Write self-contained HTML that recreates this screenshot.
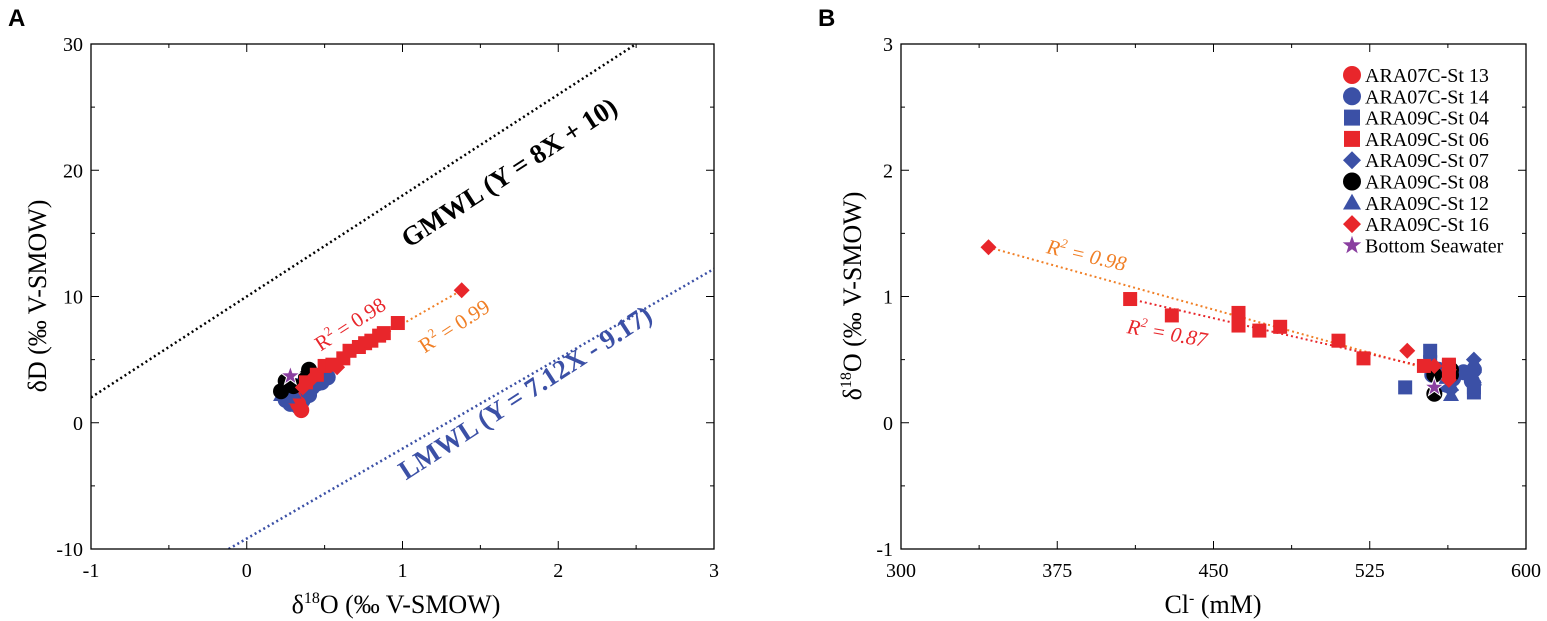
<!DOCTYPE html>
<html><head><meta charset="utf-8"><style>
html,body{margin:0;padding:0;background:#fff;width:1547px;height:621px;overflow:hidden}
svg{display:block;font-family:"Liberation Serif",serif}
</style></head><body>
<svg id="fig" width="1547" height="621" viewBox="0 0 1547 621"></svg>
<script>
// ---- Panel A data (δ18O, δD) ----
const aSt13X=[0.35,0.33,0.3];
const aSt13Y=[1.0,1.5,2.0];
const aSt14X=[0.25,0.28,0.3,0.33,0.36,0.38,0.4,0.42,0.45,0.48,0.52,0.27,0.32,0.35];
const aSt14Y=[1.8,1.5,2.2,1.3,1.8,2.5,2.2,2.8,3.1,3.2,3.6,2.6,2.9,1.6];
const aSt06X=[0.38,0.45,0.5,0.55,0.62,0.66,0.72,0.76,0.8,0.85,0.88,0.97];
const aSt06Y=[3.2,3.8,4.5,4.6,5.1,5.7,6.0,6.3,6.5,6.9,7.1,7.9];
const aSt16X=[1.38,0.58,0.42,0.36];
const aSt16Y=[10.5,4.4,3.5,2.8];
const aSt08X=[0.22,0.25,0.4,0.38,0.3];
const aSt08Y=[2.5,3.3,4.2,3.6,2.9];
const aSt12X=[0.22,0.26,0.3];
const aSt12Y=[2.2,2.0,2.4];
const aStarX=[0.28];
const aStarY=[3.7];
// ---- Panel B data (Cl-, δ18O) ----
const bSt06X=[410,430,462,462,472,482,510,522,551,563,563];
const bSt06Y=[0.98,0.85,0.87,0.77,0.73,0.76,0.65,0.51,0.45,0.46,0.40];
const bSt16X=[342,543,556,563,563];
const bSt16Y=[1.39,0.57,0.45,0.42,0.34];
const bSt04X=[542,554,554,563,575,575,563];
const bSt04Y=[0.28,0.57,0.48,0.45,0.28,0.24,0.3];
const bSt14X=[555,558,562,565,570,574,575];
const bSt14Y=[0.38,0.42,0.3,0.35,0.4,0.33,0.42];
const bSt12X=[564,564,575,575];
const bSt12Y=[0.22,0.3,0.48,0.36];
const bSt07X=[575,575,575,564];
const bSt07Y=[0.5,0.4,0.3,0.26];
const bSt08X=[556,556,564,564];
const bSt08Y=[0.38,0.23,0.42,0.38];
const bStarX=[556];
const bStarY=[0.28];
const legendLabels=["ARA07C-St 13","ARA07C-St 14","ARA09C-St 04","ARA09C-St 06","ARA09C-St 07","ARA09C-St 08","ARA09C-St 12","ARA09C-St 16","Bottom Seawater"];
const aXTicks=[-1,0,1,2,3];
const aYTicks=[-10,0,10,20,30];
const bXTicks=[300,375,450,525,600];
const bYTicks=[-1,0,1,2,3];

const NS="http://www.w3.org/2000/svg";
const svg=document.getElementById('fig');
function mk(tag,attrs,parent){const e=document.createElementNS(NS,tag);for(const k in attrs)e.setAttribute(k,attrs[k]);(parent||svg).appendChild(e);return e;}
const RED="#e8262b",BLUE="#3b50a6",BLACK="#000",PURPLE="#8a3fa0",ORANGE="#f07f26";

function scale(d0,d1,r0,r1){return v=>r0+(v-d0)*(r1-r0)/(d1-d0);}
const axA={x:scale(-1,3,91,714),y:scale(-10,30,549,44)};
const axB={x:scale(300,600,901,1526),y:scale(-1,3,549,44)};

function marker(type,cx,cy,color,name,g,sz){
  let e,s=sz||8;
  if(type==='circle')e=mk('circle',{cx:cx,cy:cy,r:s,fill:color},g);
  else if(type==='square')e=mk('rect',{x:cx-s+1,y:cy-s+1,width:2*s-2,height:2*s-2,fill:color},g);
  else if(type==='diamond')e=mk('polygon',{points:`${cx},${cy-s} ${cx+s},${cy} ${cx},${cy+s} ${cx-s},${cy}`,fill:color},g);
  else if(type==='triangle')e=mk('polygon',{points:`${cx},${cy-s} ${cx+s},${cy+s*0.75} ${cx-s},${cy+s*0.75}`,fill:color},g);
  else {let p=[];for(let i=0;i<10;i++){const r=i%2?s*0.5:s*1.25,a=-Math.PI/2+i*Math.PI/5;p.push((cx+r*Math.cos(a)).toFixed(1)+','+(cy+r*Math.sin(a)).toFixed(1));}
    e=mk('polygon',{points:p.join(' '),fill:color,stroke:'#fff','stroke-width':1},g);}
  
  
  return e;
}
function series(ax,xs,ys,type,color,name){
  const g=mk('g',{});
  
  
  xs.forEach((x,i)=>marker(type,ax.x(x),ax.y(ys[i]),color,name+'-point',g));
}
function frame(ax,xt,yt,x0,x1,y0,y1,pfx){
  const g=mk('g',{});
  
  
  mk('rect',{x:x0,y:y0,width:x1-x0,height:y1-y0,fill:'none',stroke:'#000','stroke-width':1.3},g);
  xt.forEach(v=>{const px=ax.x(v);
    mk('line',{x1:px,x2:px,y1:y1,y2:y1-8,stroke:'#000'},g);mk('line',{x1:px,x2:px,y1:y0,y2:y0+8,stroke:'#000'},g);
    const t=mk('text',{x:px,y:y1+28,'text-anchor':'middle','font-size':20},g);t.textContent=v;
    
    });
  for(let i=0;i<xt.length-1;i++){const px=(ax.x(xt[i])+ax.x(xt[i+1]))/2;
    mk('line',{x1:px,x2:px,y1:y1,y2:y1-4,stroke:'#000'},g);mk('line',{x1:px,x2:px,y1:y0,y2:y0+4,stroke:'#000'},g);}
  yt.forEach(v=>{const py=ax.y(v);
    mk('line',{x1:x0,x2:x0+8,y1:py,y2:py,stroke:'#000'},g);mk('line',{x1:x1,x2:x1-8,y1:py,y2:py,stroke:'#000'},g);
    const t=mk('text',{x:x0-8,y:py+7,'text-anchor':'end','font-size':20},g);t.textContent=v;
    
    });
  for(let i=0;i<yt.length-1;i++){const py=(ax.y(yt[i])+ax.y(yt[i+1]))/2;
    mk('line',{x1:x0,x2:x0+4,y1:py,y2:py,stroke:'#000'},g);mk('line',{x1:x1,x2:x1-4,y1:py,y2:py,stroke:'#000'},g);}
}
function label(x,y,txt,opts,name){const t=mk('text',Object.assign({x:x,y:y},opts));t.innerHTML=txt;
  
  return t;}

// ---------- Panel A ----------
const clipA=mk('clipPath',{id:'ca'});mk('rect',{x:91,y:44,width:623,height:505},clipA);
const gl=mk('g',{'clip-path':'url(#ca)'});
const gm=mk('line',{x1:axA.x(-1),y1:axA.y(2),x2:axA.x(2.5),y2:axA.y(30),stroke:'#000','stroke-width':2.5,'stroke-dasharray':'2 3'},gl);


const lm=mk('line',{x1:axA.x(-0.116),y1:axA.y(-10),x2:axA.x(3),y2:axA.y(12.19),stroke:BLUE,'stroke-width':2.5,'stroke-dasharray':'2 3'},gl);


const fa1=mk('line',{x1:axA.x(0.3),y1:axA.y(2.9),x2:axA.x(1.38),y2:axA.y(10.5),stroke:ORANGE,'stroke-width':2,'stroke-dasharray':'2 3'},gl);


series(axA,aSt14X,aSt14Y,'circle',BLUE,'st14');
series(axA,aSt13X,aSt13Y,'circle',RED,'st13');
series(axA,aSt12X,aSt12Y,'triangle',BLUE,'st12');
series(axA,aSt08X,aSt08Y,'circle',BLACK,'st08');
series(axA,aSt06X,aSt06Y,'square',RED,'st06');
series(axA,aSt16X,aSt16Y,'diamond',RED,'st16');
series(axA,aStarX,aStarY,'star',PURPLE,'bottom-seawater');
frame(axA,aXTicks,aYTicks,91,714,44,549,'panel-a');
label(514,180,'GMWL (Y = 8X + 10)',{'text-anchor':'middle','font-size':27,'font-weight':'bold',transform:'rotate(-33 514 180)'},'gmwl-label');
label(530,400,'LMWL (Y = 7.12X - 9.17)',{'text-anchor':'middle','font-size':27,'font-weight':'bold',fill:BLUE,transform:'rotate(-33 530 400)'},'lmwl-label');
label(354,330,'R<tspan font-size="13" dy="-9">2</tspan><tspan dy="9"> = 0.98</tspan>',{'text-anchor':'middle','font-size':21,fill:RED,transform:'rotate(-33 354 330)'},'r2-label-a-red');
label(458,332,'R<tspan font-size="13" dy="-9">2</tspan><tspan dy="9"> = 0.99</tspan>',{'text-anchor':'middle','font-size':21,fill:ORANGE,transform:'rotate(-33 458 332)'},'r2-label-a-orange');
label(396,613,'δ<tspan font-size="16" dy="-10">18</tspan><tspan dy="10">O (‰ V-SMOW)</tspan>',{'text-anchor':'middle','font-size':26},'x-axis-title-a');
label(46,296,'δD (‰ V-SMOW)',{'text-anchor':'middle','font-size':26,transform:'rotate(-90 46 296)'},'y-axis-title-a');
label(8,26,'A',{'font-size':24,'font-weight':'bold','font-family':'Liberation Sans, sans-serif'},'panel-label-a');

// ---------- Panel B ----------
const fb1=mk('line',{x1:axB.x(342),y1:axB.y(1.39),x2:axB.x(563),y2:axB.y(0.38),stroke:ORANGE,'stroke-width':2,'stroke-dasharray':'2 3'});


const fb2=mk('line',{x1:axB.x(410),y1:axB.y(0.98),x2:axB.x(563),y2:axB.y(0.40),stroke:RED,'stroke-width':2,'stroke-dasharray':'2 3'});


series(axB,bSt04X,bSt04Y,'square',BLUE,'b-st04');
series(axB,bSt14X,bSt14Y,'circle',BLUE,'b-st14');
series(axB,bSt12X,bSt12Y,'triangle',BLUE,'b-st12');
series(axB,bSt07X,bSt07Y,'diamond',BLUE,'b-st07');
series(axB,bSt08X,bSt08Y,'circle',BLACK,'b-st08');
series(axB,bSt06X,bSt06Y,'square',RED,'b-st06');
series(axB,bSt16X,bSt16Y,'diamond',RED,'b-st16');
series(axB,bStarX,bStarY,'star',PURPLE,'b-bottom-seawater');
frame(axB,bXTicks,bYTicks,901,1526,44,549,'panel-b');
label(1085,262,'R<tspan font-size="13" dy="-9">2</tspan><tspan dy="9"> = 0.98</tspan>',{'text-anchor':'middle','font-size':21,'font-style':'italic',fill:ORANGE,transform:'rotate(13 1085 262)'},'r2-label-b-orange');
label(1166,340,'R<tspan font-size="13" dy="-9">2</tspan><tspan dy="9"> = 0.87</tspan>',{'text-anchor':'middle','font-size':21,'font-style':'italic',fill:RED,transform:'rotate(10 1166 340)'},'r2-label-b-red');
label(1213,613,'Cl<tspan font-size="16" dy="-10">-</tspan><tspan dy="10"> (mM)</tspan>',{'text-anchor':'middle','font-size':26},'x-axis-title-b');
label(861,296,'δ<tspan font-size="16" dy="-10">18</tspan><tspan dy="10">O (‰ V-SMOW)</tspan>',{'text-anchor':'middle','font-size':26,transform:'rotate(-90 861 296)'},'y-axis-title-b');
label(818,26,'B',{'font-size':24,'font-weight':'bold','font-family':'Liberation Sans, sans-serif'},'panel-label-b');

// legend
const legTypes=['circle','circle','square','square','diamond','circle','triangle','diamond','star'];
const legColors=[RED,BLUE,BLUE,RED,BLUE,BLACK,BLUE,RED,PURPLE];
const lg=mk('g',{});


legendLabels.forEach((l,i)=>{const y=75+i*21.3;
  marker(legTypes[i],1352,y,legColors[i],'legend-marker',lg,9);
  const t=mk('text',{x:1365,y:y+7,'font-size':20},lg);t.textContent=l;
  
  });
</script>
</body></html>
